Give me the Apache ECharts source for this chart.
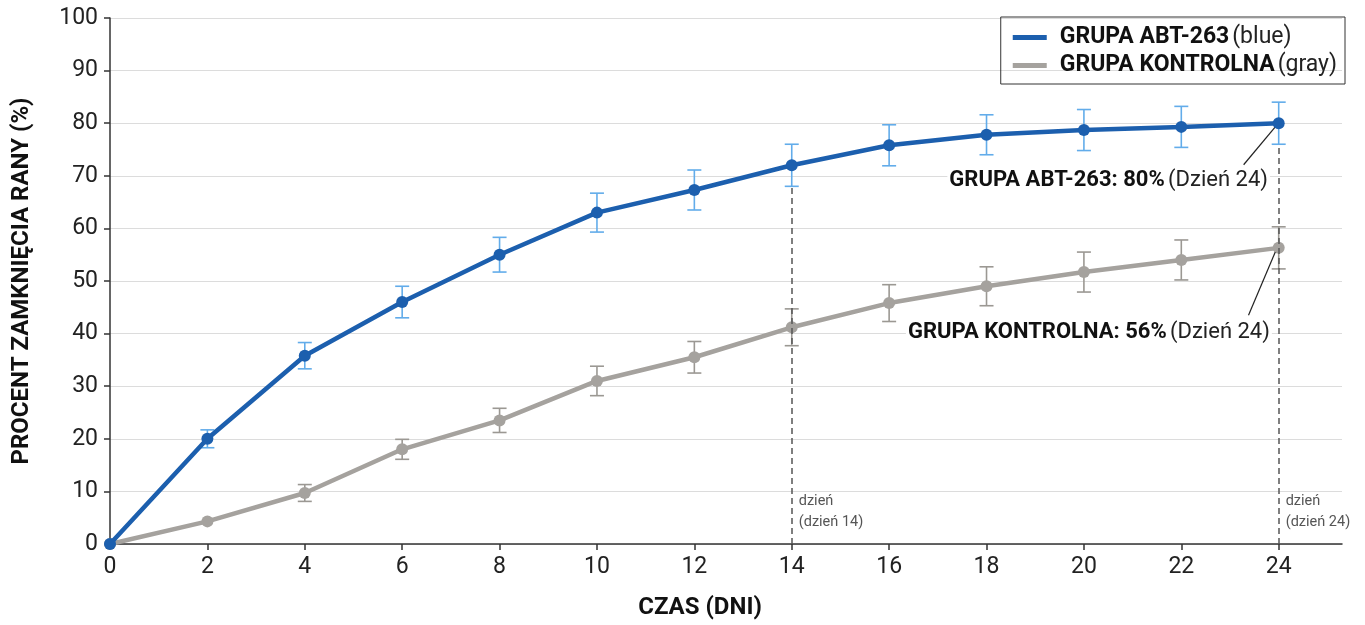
<!DOCTYPE html>
<html>
<head>
<meta charset="utf-8">
<script src="https://cdn.jsdelivr.net/npm/echarts@6/dist/echarts.min.js"></script>
<style>
html,body{margin:0;padding:0;background:#fff;}
#chart{width:1365px;height:625px;}
</style>
</head>
<body>
<div id="chart"></div>
<script>
const days = [0, 2, 4, 6, 8, 10, 12, 14, 16, 18, 20, 22, 24];
const abtValues = [0, 20, 35.8, 46, 55, 63, 67.3, 72, 75.8, 77.8, 78.7, 79.3, 80];
const abtErr = [0, 1.7, 2.5, 3, 3.3, 3.7, 3.8, 4, 3.9, 3.8, 3.9, 3.9, 4];
const ctrlValues = [0, 4.3, 9.7, 18, 23.5, 31, 35.5, 41.2, 45.8, 49, 51.7, 54, 56.3];
const ctrlErr = [0, 0, 1.6, 1.9, 2.3, 2.8, 3, 3.5, 3.5, 3.7, 3.8, 3.8, 4];
const seriesNames = ['GRUPA ABT-263', 'GRUPA KONTROLNA'];
const legendNotes = ['(blue)', '(gray)'];
const yTitle = 'PROCENT ZAMKNIĘCIA RANY (%)';
const xTitle = 'CZAS (DNI)';
const markerDays = [14, 24];
const markerTops = [68, 76];
const markerLabels = ['dzień\n(dzień 14)', 'dzień\n(dzień 24)'];
const annotBold = ['GRUPA ABT-263: 80%', 'GRUPA KONTROLNA: 56%'];
const annotNorm = ['(Dzień 24)', '(Dzień 24)'];
const annotAnchor = [[23.82, 69.2], [23.86, 40.3]];
const leaderFrom = [[23.28, 72.1], [23.38, 43.5]];
const leaderTo = [[23.93, 79.3], [23.93, 55.5]];

const BLUE = '#1c5fae', BLUE_ERR = '#62acea';
const GRAY = '#a5a29e', GRAY_ERR = '#9b9893';
const FONT = 'Roboto, "Noto Sans", sans-serif';

function pairs(vals){ return days.map((d,i)=>[d, vals[i]]); }
function errData(vals, errs){ return days.map((d,i)=>[d, vals[i]-errs[i], vals[i]+errs[i]]).filter((r,i)=>errs[i]>0); }

function errRender(color){
  return function(params, api){
    const x = api.value(0);
    const lo = api.coord([x, api.value(1)]);
    const hi = api.coord([x, api.value(2)]);
    const w = 7;
    const style = {stroke: color, lineWidth: 1.6};
    return {type:'group', children:[
      {type:'line', shape:{x1:lo[0],y1:lo[1],x2:hi[0],y2:hi[1]}, style},
      {type:'line', shape:{x1:lo[0]-w,y1:lo[1],x2:lo[0]+w,y2:lo[1]}, style},
      {type:'line', shape:{x1:hi[0]-w,y1:hi[1],x2:hi[0]+w,y2:hi[1]}, style}
    ]};
  };
}

const chart = echarts.init(document.getElementById('chart'));
const option = {
  backgroundColor:'#fff',
  animation:false,
  textStyle:{fontFamily:FONT},
  grid:{left:110, right:23, top:18, bottom:81, containLabel:false, outerBoundsMode:'none'},
  legend:{
    orient:'vertical', right:20, top:17,
    data:seriesNames,
    borderColor:'#333', borderWidth:1, padding:[9,8,7,12],
    itemGap:5, itemWidth:34, itemHeight:5, icon:'rect',
    formatter:function(name){ const i=seriesNames.indexOf(name); return '{b|'+name+'} {n|'+legendNotes[i]+'}'; },
    textStyle:{rich:{
      b:{fontSize:23, fontWeight:'bold', color:'#111', fontFamily:FONT, padding:[0,0,0,8]},
      n:{fontSize:23, color:'#222', fontFamily:FONT}
    }}
  },
  xAxis:{
    type:'value', min:0, max:25.3, interval:2,
    name:xTitle, nameLocation:'middle', nameGap:52,
    nameTextStyle:{fontSize:24, fontWeight:'bold', color:'#111', fontFamily:FONT, padding:[0,52,0,0]},
    axisLine:{lineStyle:{color:'#333', width:1.5}},
    axisTick:{lineStyle:{color:'#333', width:1.5}, length:6},
    axisLabel:{fontSize:23, color:'#222', margin:12, showMaxLabel:false},
    splitLine:{show:false}
  },
  yAxis:{
    type:'value', min:0, max:100, interval:10,
    name:yTitle, nameLocation:'middle', nameGap:76, nameRotate:90,
    nameTextStyle:{fontSize:24, fontWeight:'bold', color:'#111', fontFamily:FONT, padding:[0,0,0,0]},
    axisLine:{show:true, lineStyle:{color:'#333', width:1.5}},
    axisTick:{show:true, lineStyle:{color:'#333', width:1.5}, length:6},
    axisLabel:{fontSize:23, color:'#222', margin:12},
    splitLine:{lineStyle:{color:'#dcdcdc', width:1.2}}
  },
  series:[
    {type:'custom', name:'abtErr', renderItem:errRender(BLUE_ERR), data:errData(abtValues, abtErr), z:3, silent:true},
    {type:'custom', name:'ctrlErr', renderItem:errRender(GRAY_ERR), data:errData(ctrlValues, ctrlErr), z:3, silent:true},
    {
      type:'line', name:seriesNames[1], data:pairs(ctrlValues),
      color:GRAY, lineStyle:{width:4.5, color:GRAY}, symbol:'circle', symbolSize:12,
      itemStyle:{color:GRAY}, z:4,
      markLine:{silent:true, symbol:'none', animation:false,
        lineStyle:{color:'#555', type:[6,4], width:1.5},
        label:{show:false},
        data: markerDays.map((d,i)=>[{coord:[d,0]},{coord:[d,markerTops[i]]}])
      }
    },
    {
      type:'line', name:seriesNames[0], data:pairs(abtValues),
      color:BLUE, lineStyle:{width:4.5, color:BLUE}, symbol:'circle', symbolSize:12,
      itemStyle:{color:BLUE}, z:5,
      markLine:{silent:true, symbol:'none', animation:false,
        lineStyle:{color:'#222', type:'solid', width:1.2},
        label:{show:false},
        data: leaderFrom.map((f,i)=>[{coord:f},{coord:leaderTo[i]}])
      }
    }
  ]
};
chart.setOption(option);

const g = [];
markerDays.forEach((d,i)=>{
  const p = chart.convertToPixel({gridIndex:0}, [d, 0]);
  g.push({type:'text', left:p[0]+7, top:p[1]-53, silent:true,
    style:{text:markerLabels[i], fill:'#555', fontSize:14.5, lineHeight:21, fontFamily:FONT}});
});
annotAnchor.forEach((a,i)=>{
  const p = chart.convertToPixel({gridIndex:0}, a);
  g.push({type:'text', x:p[0], y:p[1], silent:true,
    style:{text:'{b|'+annotBold[i]+'} {n|'+annotNorm[i]+'}', align:'right', verticalAlign:'middle',
      rich:{b:{fontSize:22, fontWeight:'bold', fill:'#111', fontFamily:FONT},
            n:{fontSize:22, fill:'#222', fontFamily:FONT}},
      backgroundColor:'#fff', padding:[2,2]}});
});
chart.setOption({graphic:g});
</script>
</body>
</html>
